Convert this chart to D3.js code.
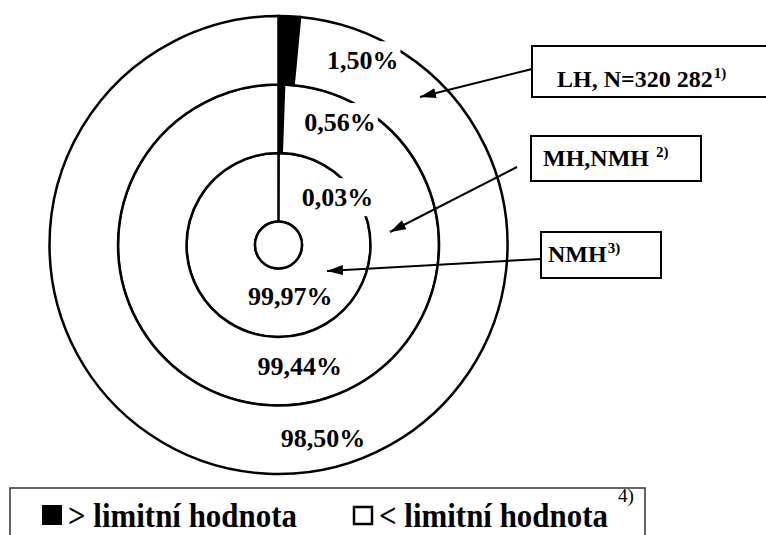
<!DOCTYPE html>
<html>
<head>
<meta charset="utf-8">
<script src="https://cdn.jsdelivr.net/npm/d3@7"></script>
<style>
  body { margin: 0; background: #fff; }
  svg text { font-family: "Liberation Serif", "DejaVu Serif", "Times New Roman", Times, serif; font-weight: bold; }
</style>
</head>
<body>
<svg id="chart" width="766" height="535"></svg>
<script>
// concentric rings, inner -> outer
const rings = ["NMH", "MH,NMH", "LH"];
const aboveLimit = [0.03, 0.56, 1.50];
const belowLimit = [99.97, 99.44, 98.50];
const ringNotes = ["3)", "2)", "1)"];
const ringTitles = ["NMH", "MH,NMH", "LH, N=320 282"];
const legendLabels = ["> limitní hodnota", "< limitní hodnota"];

const width = 766, height = 535;
const cx = 278.5, cy = 245;

const svg = d3.select("#chart");
const g = svg.append("g").attr("transform", `translate(${cx},${cy})`);

const locale = d3.formatLocale({ decimal: ",", thousands: " ", grouping: [3], currency: ["", ""] });
const fmt = d => locale.format(".2f")(d) + "%";

// ring boundary radii
const radius = d3.scaleLinear().domain([0, rings.length]).range([23.5, 229]);

const pie = d3.pie().sort(null).value(d => d.v);

rings.forEach((name, i) => {
  const arc = d3.arc().innerRadius(radius(i)).outerRadius(radius(i + 1));
  const slices = pie([{ k: "above", v: aboveLimit[i] }, { k: "below", v: belowLimit[i] }]);
  g.selectAll(null)
    .data(slices)
    .join("path")
    .attr("d", arc)
    .attr("fill", d => d.data.k === "above" ? "#000" : "#fff")
    .attr("stroke", "#000")
    .attr("stroke-width", 2.5)
    .attr("stroke-linejoin", "miter");
});

// center hole
g.append("circle").attr("r", radius(0)).attr("fill", "#fff").attr("stroke", "#000").attr("stroke-width", 2.5);

// percentage labels (polar placement per ring)
const abovePos = [[51, 76], [26.6, 137.5], [24.5, 203]];
const belowPos = [[167, 52], [170, 123], [167, 198]];

function polar(a, r) {
  const t = a * Math.PI / 180;
  return [r * Math.sin(t), -r * Math.cos(t)];
}

function pctLabel(val, pos, knockout) {
  const [x, y] = polar(pos[0], pos[1]);
  const lg = g.append("g");
  const t = lg.append("text")
    .attr("x", x).attr("y", y + 9)
    .attr("text-anchor", "middle")
    .attr("font-size", 26)
    .text(fmt(val));
  if (knockout) {
    const b = t.node().getBBox();
    lg.insert("rect", "text")
      .attr("x", b.x - 2).attr("y", y - 19)
      .attr("width", b.width + 4).attr("height", 38)
      .attr("fill", "#fff");
  }
}

rings.forEach((name, i) => {
  pctLabel(aboveLimit[i], abovePos[i], true);
  pctLabel(belowLimit[i], belowPos[i], false);
});

// callouts
svg.append("defs").append("marker")
  .attr("id", "arrow")
  .attr("viewBox", "0 0 16 10")
  .attr("refX", 16).attr("refY", 5)
  .attr("markerWidth", 16).attr("markerHeight", 10)
  .attr("markerUnits", "userSpaceOnUse")
  .attr("orient", "auto")
  .append("path").attr("d", "M0,0 L16,5 L0,10 Z").attr("fill", "#000");

const callouts = [
  { box: [541, 232, 120, 46], tx: 548, ty: 262, from: [541, 259], to: [327, 271] },
  { box: [531, 136, 170, 45], tx: 543, ty: 166, from: [517, 167], to: [390, 232] },
  { box: [532, 46, 300, 51], tx: 557, ty: 87, from: [532, 69], to: [420, 97] }
];

callouts.forEach((c, i) => {
  svg.append("line")
    .attr("x1", c.from[0]).attr("y1", c.from[1])
    .attr("x2", c.to[0]).attr("y2", c.to[1])
    .attr("stroke", "#000").attr("stroke-width", 2)
    .attr("marker-end", "url(#arrow)");
  svg.append("rect")
    .attr("x", c.box[0]).attr("y", c.box[1])
    .attr("width", c.box[2]).attr("height", c.box[3])
    .attr("fill", "#fff").attr("stroke", "#000").attr("stroke-width", 2);
  const t = svg.append("text")
    .attr("x", c.tx).attr("y", c.ty)
    .attr("font-size", 24)
    .text(ringTitles[i]);
  const w = t.node().getComputedTextLength();
  svg.append("text")
    .attr("x", c.tx + w + (i === 1 ? 7 : 1)).attr("y", c.ty - 9)
    .attr("font-size", 15)
    .text(ringNotes[i]);
});

// legend
const leg = svg.append("g");
leg.append("rect")
  .attr("x", 10).attr("y", 488).attr("width", 635).attr("height", 70)
  .attr("fill", "#fff").attr("stroke", "#333").attr("stroke-width", 1.5);
leg.append("rect").attr("x", 42).attr("y", 505).attr("width", 20).attr("height", 20).attr("fill", "#000");
leg.append("rect").attr("x", 354).attr("y", 507).attr("width", 18).attr("height", 17)
  .attr("fill", "#fff").attr("stroke", "#000").attr("stroke-width", 2.5);

[68, 379].forEach((x, i) => {
  const t = leg.append("text")
    .attr("font-size", 34)
    .text(legendLabels[i]);
  const w = t.node().getComputedTextLength();
  t.attr("transform", `translate(${x},527) scale(${229 / w},1)`);
});

leg.append("text").attr("x", 618).attr("y", 502).attr("font-size", 19)
  .style("font-weight", "normal")
  .text("4)");
</script>
</body>
</html>
